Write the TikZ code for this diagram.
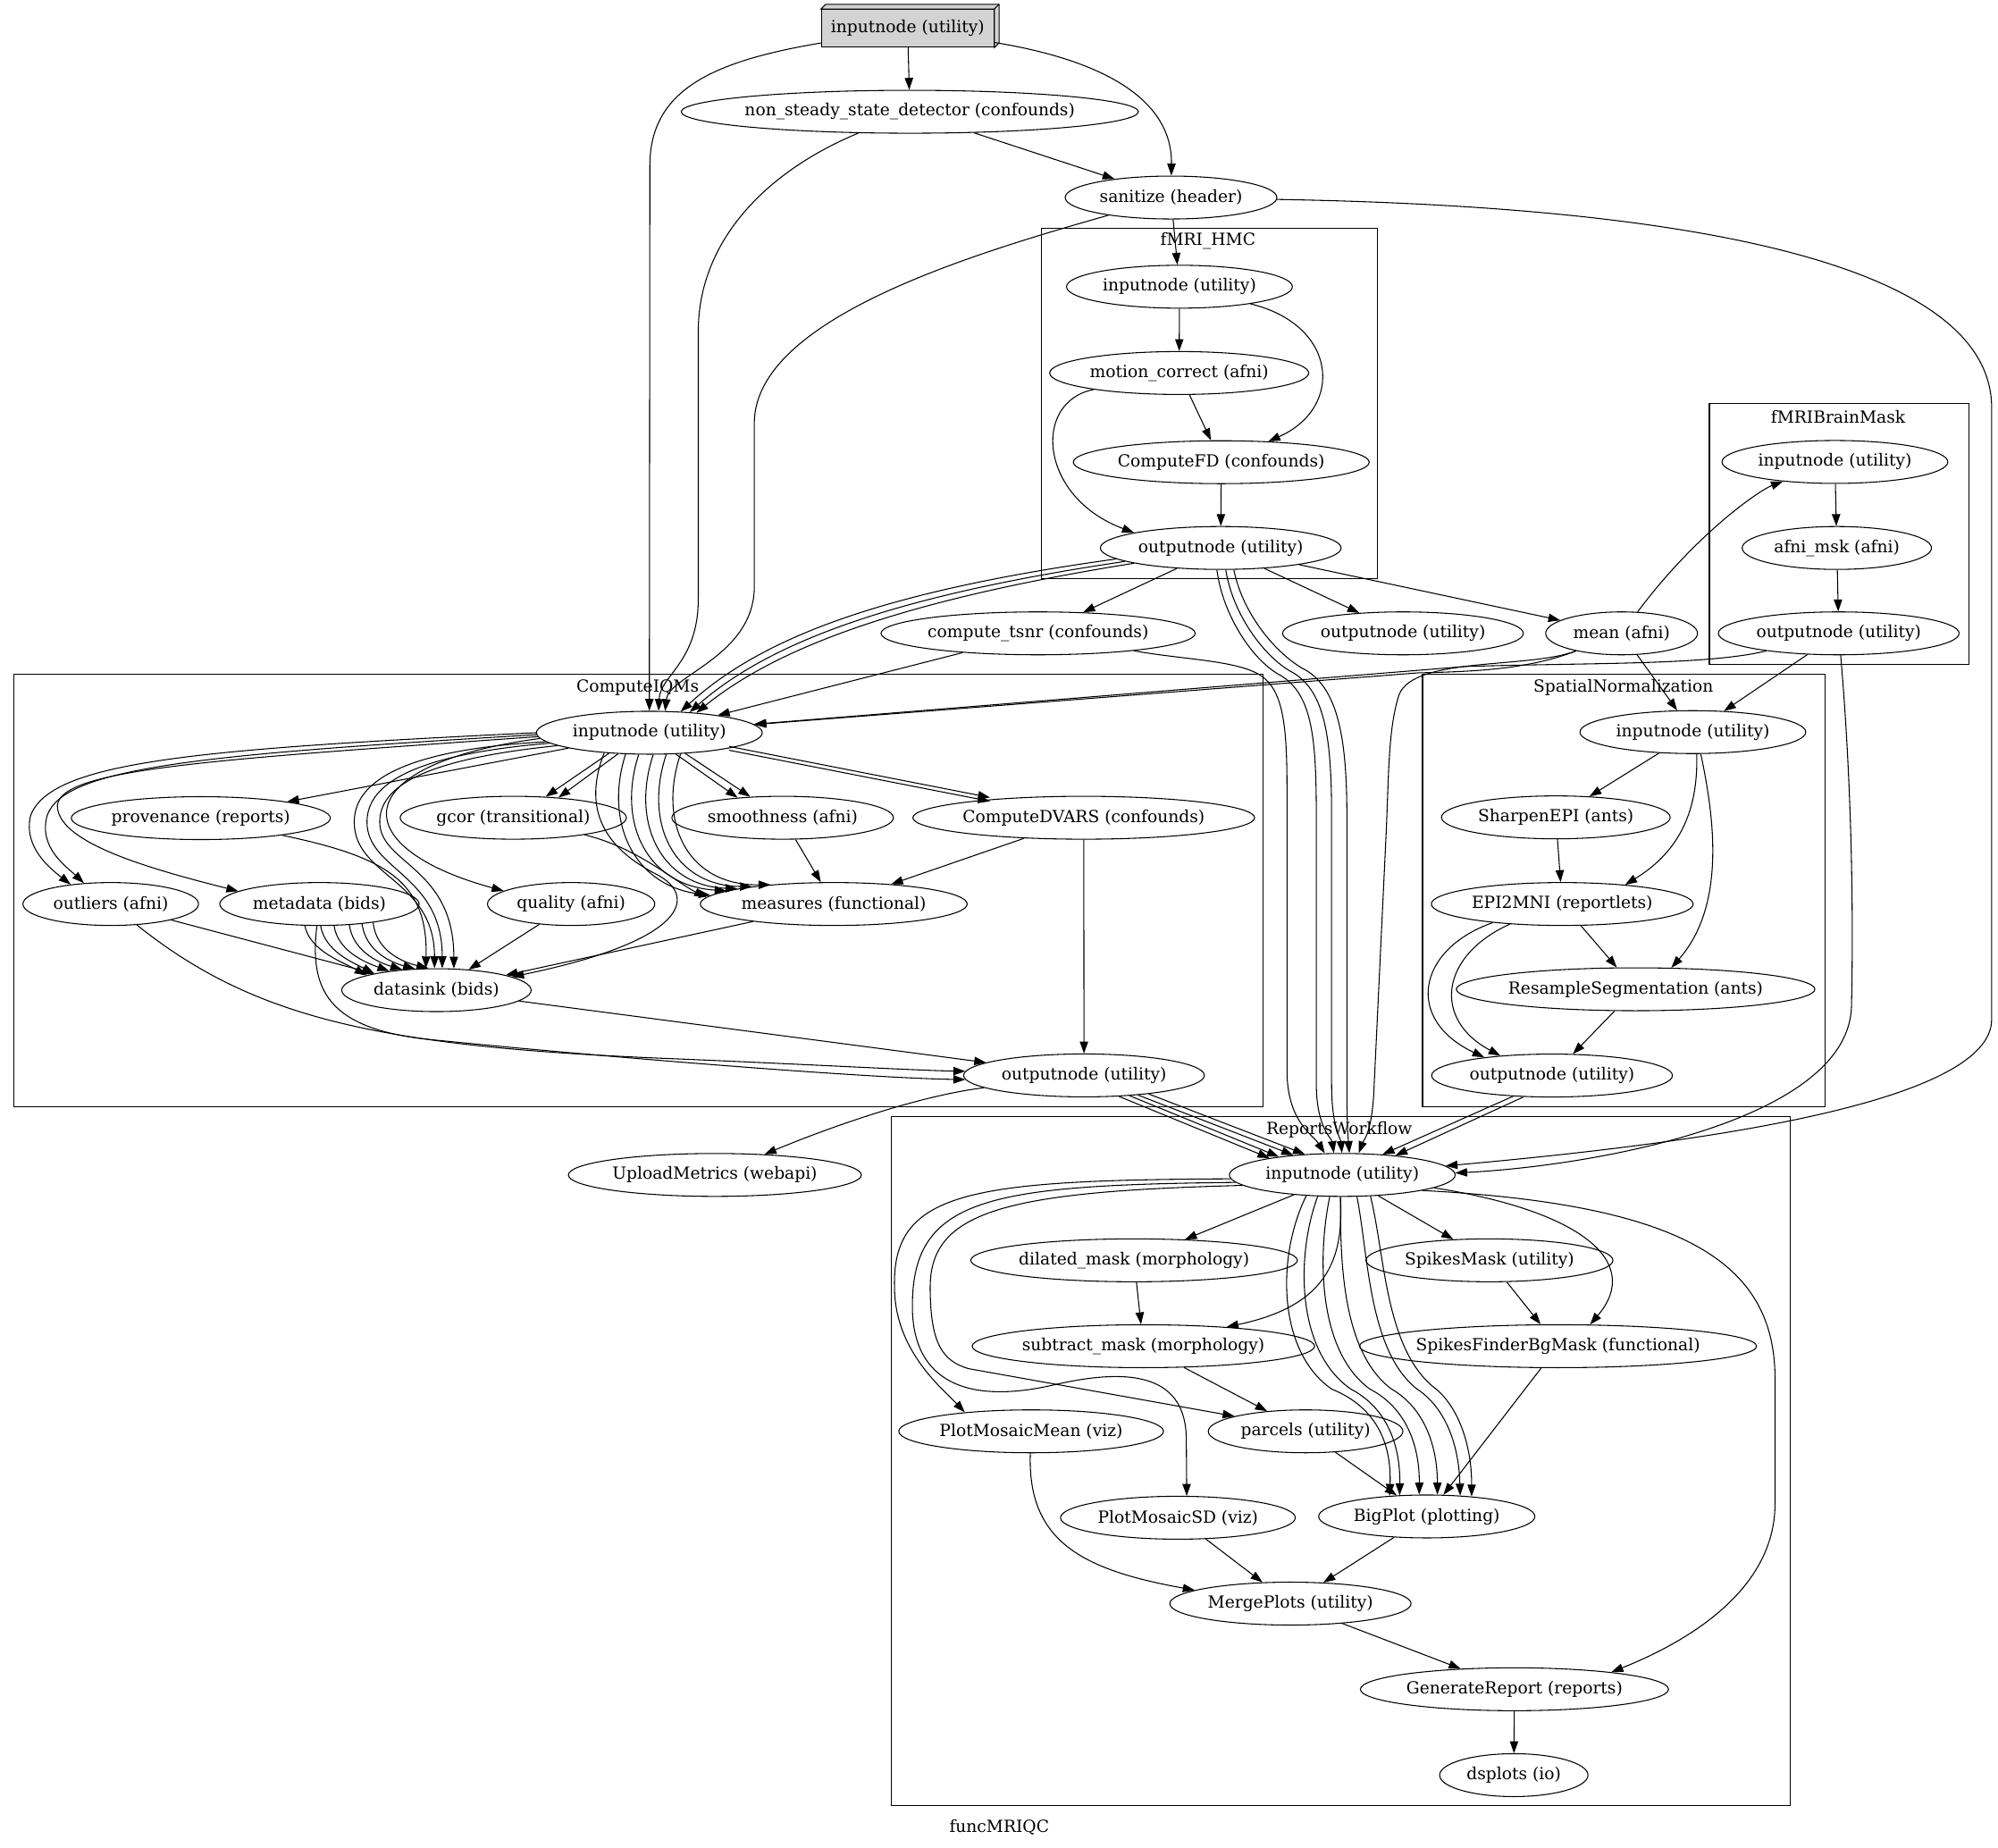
\documentclass[tikz,border=0pt]{standalone}
\usepackage{fontspec}
\setmainfont{DejaVu Serif}
\usetikzlibrary{arrows.meta,calc,shapes.geometric}
\definecolor{boxgray}{HTML}{D3D3D3}
\newlength\jobw
\newcommand\jobtext[1]{\settowidth\jobw{#1}\makebox[\dimexpr0.926\jobw+14.8pt\relax]{#1}}
\begin{document}
\begin{tikzpicture}[x=1.0695pt, y=-1.0695pt, font=\fontsize{14}{17}\selectfont,
  job/.style={draw, ellipse, inner sep=0pt, minimum height=36pt, line width=0.8pt},
  e/.style={-{Triangle[length=10pt,width=7pt]}, line width=0.8pt},
  grp/.style={draw, line width=0.8pt}]
  \useasboundingbox (0,0) rectangle (1568,1450);
  \draw[grp] (817,179.3) rectangle (1081,454);
  \node (hmclbl) at (948,189) {fMRI\_HMC};
  \draw[grp] (1341.5,316.7) rectangle (1545,521.3);
  \node (bmlbl) at (1442.5,327.3) {fMRIBrainMask};
  \draw[grp] (10.9,529.4) rectangle (991.2,868.4);
  \node (iqlbl) at (500.4,539.5) {ComputeIQMs};
  \draw[grp] (1116.4,529) rectangle (1432,868.6);
  \node (snlbl) at (1274,539.5) {SpatialNormalization};
  \draw[grp] (699.2,875.9) rectangle (1405,1417);
  \node (rplbl) at (1051,886.6) {ReportsWorkflow};
  \node (title) at (784.2,1434) {funcMRIQC};

  \node[draw, fill=boxgray, inner xsep=8pt, minimum height=31.5pt, line width=0.8pt] (src) at (712.3,22.2) {inputnode (utility)};
  \filldraw[fill=boxgray, line width=0.8pt] (src.north west) -- ++(4pt,4pt) -- ($(src.north east)+(4pt,4pt)$) -- ($(src.south east)+(4pt,4pt)$) -- (src.south east) -- (src.north east) -- cycle;
  \draw[line width=0.8pt] (src.north east) -- ++(4pt,4pt);

  \node[job] (nssd) at (714,87.7) {\jobtext{non\_steady\_state\_detector (confounds)}};
  \node[job] (sanit) at (919,155) {\jobtext{sanitize (header)}};
  \node[job] (hmcin) at (925.6,225) {\jobtext{inputnode (utility)}};
  \node[job] (mcorr) at (925.4,292.7) {\jobtext{motion\_correct (afni)}};
  \node[job] (cfd) at (958.4,362.7) {\jobtext{ComputeFD (confounds)}};
  \node[job] (hmcout) at (958,430) {\jobtext{outputnode (utility)}};
  \node[job] (bmin) at (1440,362.5) {\jobtext{inputnode (utility)}};
  \node[job] (amsk) at (1441.5,430) {\jobtext{afni\_msk (afni)}};
  \node[job] (bmout) at (1443,497) {\jobtext{outputnode (utility)}};
  \node[job] (tsnr) at (814.7,497) {\jobtext{compute\_tsnr (confounds)}};
  \node[job] (fout) at (1101,497) {\jobtext{outputnode (utility)}};
  \node[job] (mean) at (1272.6,497) {\jobtext{mean (afni)}};
  \node[job] (iqin) at (509.6,575) {\jobtext{inputnode (utility)}};
  \node[job] (prov) at (157.6,642) {\jobtext{provenance (reports)}};
  \node[job] (gcor) at (402.8,641.7) {\jobtext{gcor (transitional)}};
  \node[job] (smooth) at (614.2,641.7) {\jobtext{smoothness (afni)}};
  \node[job] (dvars) at (850.5,641.7) {\jobtext{ComputeDVARS (confounds)}};
  \node[job] (outl) at (86.9,709.4) {\jobtext{outliers (afni)}};
  \node[job] (meta) at (250.7,709.4) {\jobtext{metadata (bids)}};
  \node[job] (qual) at (448.2,709.4) {\jobtext{quality (afni)}};
  \node[job] (meas) at (654.3,709.4) {\jobtext{measures (functional)}};
  \node[job] (dsink) at (342.5,777) {\jobtext{datasink (bids)}};
  \node[job] (iqout) at (850.7,843.9) {\jobtext{outputnode (utility)}};
  \node[job] (snin) at (1328.5,574.5) {\jobtext{inputnode (utility)}};
  \node[job] (sharp) at (1221,641.4) {\jobtext{SharpenEPI (ants)}};
  \node[job] (epi) at (1226,709.4) {\jobtext{EPI2MNI (reportlets)}};
  \node[job] (rseg) at (1283.6,776.3) {\jobtext{ResampleSegmentation (ants)}};
  \node[job] (snout) at (1218,844) {\jobtext{outputnode (utility)}};
  \node[job] (upload) at (561,922) {\jobtext{UploadMetrics (webapi)}};
  \node[job] (rpin) at (1053.4,922) {\jobtext{inputnode (utility)}};
  \node[job] (dil) at (890,989) {\jobtext{dilated\_mask (morphology)}};
  \node[job] (spkm) at (1168.9,989) {\jobtext{SpikesMask (utility)}};
  \node[job] (sub) at (897.3,1056.4) {\jobtext{subtract\_mask (morphology)}};
  \node[job] (spkf) at (1222.7,1056.4) {\jobtext{SpikesFinderBgMask (functional)}};
  \node[job] (pmm) at (809.2,1123.2) {\jobtext{PlotMosaicMean (viz)}};
  \node[job] (parc) at (1024.6,1123.2) {\jobtext{parcels (utility)}};
  \node[job] (pmsd) at (924.4,1191) {\jobtext{PlotMosaicSD (viz)}};
  \node[job] (bigp) at (1119.7,1190) {\jobtext{BigPlot (plotting)}};
  \node[job] (merge) at (1012.7,1258.4) {\jobtext{MergePlots (utility)}};
  \node[job] (genr) at (1188.5,1325.6) {\jobtext{GenerateReport (reports)}};
  \node[job] (dspl) at (1188,1393) {\jobtext{dsplots (io)}};

  \draw[e] (src) -- (nssd);
  \draw[e] (src) .. controls (870,48) and (920,80) .. (sanit);
  \draw[e] (src) .. controls (560,48) and (510,70) .. (510,130) -- (iqin.north);
  \draw[e] (nssd) -- (sanit);
  \draw[e] (nssd) .. controls (600,135) and (548,190) .. (548,260) -- (548,470) .. controls (548,520) and (518,530) .. (iqin.67);
  \draw[e] (sanit) -- (hmcin);
  \draw[e] (sanit) .. controls (760,200) and (595,250) .. (592,330) -- (592,460) .. controls (592,515) and (525,530) .. (iqin.54);
  \draw[e] (sanit) .. controls (1200,160) and (1563,180) .. (1563,320) -- (1563,800) .. controls (1563,870) and (1300,900) .. (rpin.5);

  \draw[e] (hmcin) -- (mcorr);
  \draw[e] (hmcin) .. controls (1050,255) and (1055,320) .. (cfd);
  \draw[e] (mcorr) -- (cfd);
  \draw[e] (mcorr) .. controls (810,315) and (815,390) .. (hmcout.170);
  \draw[e] (cfd) -- (hmcout);
  \draw[e] (hmcout) -- (tsnr);
  \draw[e] (hmcout) -- (fout);
  \draw[e] (hmcout) -- (mean);
  \draw[e] (hmcout.186) .. controls (700,463) and (600,498) .. (iqin.34);
  \draw[e] (hmcout.188) .. controls (704,467) and (605,503) .. (iqin.27);
  \draw[e] (hmcout.190) .. controls (708,471) and (610,508) .. (iqin.23);
  \draw[e] (hmcout.260) .. controls (960,485) and (985,520) .. (1005,530) .. controls (1030,545) and (1033,580) .. (1033,640) -- (1033,850) .. controls (1033,885) and (1045,893) .. (rpin.111);
  \draw[e] (hmcout.283) .. controls (968,485) and (995,518) .. (1015,528) .. controls (1040,543) and (1045,580) .. (1045,640) -- (1045,850) .. controls (1045,885) and (1052,893) .. (rpin.91);
  \draw[e] (hmcout.301) .. controls (976,485) and (1005,516) .. (1025,526) .. controls (1050,541) and (1057,580) .. (1057,640) -- (1057,850) .. controls (1057,885) and (1058,893) .. (rpin.72);

  \draw[e] (tsnr) -- (iqin);
  \draw[e] (tsnr) .. controls (930,518) and (975,518) .. (992,532) .. controls (1008,545) and (1010,575) .. (1010,620) -- (1010,840) .. controls (1010,880) and (1030,890) .. (rpin.129);
  \draw[e] (mean) .. controls (1330,420) and (1380,385) .. (bmin);
  \draw[e] (mean) -- (snin);
  \draw[e] (mean) .. controls (1200,525) and (1160,527) .. (1113,528) -- (iqin);
  \draw[e] (mean) .. controls (1200,525) and (1110,515) .. (1098,545) .. controls (1090,570) and (1090,600) .. (1088,650) -- (1078,860) .. controls (1076,890) and (1070,895) .. (rpin.53);

  \draw[e] (bmin) -- (amsk);
  \draw[e] (amsk) -- (bmout);
  \draw[e] (bmout) -- (snin);
  \draw[e] (bmout) .. controls (1340,522) and (1250,520) .. (1150,523) -- (iqin);
  \draw[e] (bmout) .. controls (1452,600) and (1455,700) .. (1453,790) .. controls (1450,880) and (1250,915) .. (rpin.1);

  \draw[e] (iqin) -- (prov);
  \foreach \s/\t in {207/33, 214/24} \draw[e] (iqin.\s) -- (gcor.\t);
  \foreach \s/\t in {321/156, 330/147} \draw[e] (iqin.\s) -- (smooth.\t);
  \foreach \s in {-1.6,1.6} \draw[e, transform canvas={yshift=\s pt}] (iqin) -- (dvars);
  \draw[e] (iqin.180) .. controls (150,588) and (40,598) .. (24,640) .. controls (18,665) and (40,682) .. (outl.154);
  \draw[e] (iqin.181) .. controls (160,592) and (50,602) .. (37,640) .. controls (30,665) and (52,680) .. (outl.142);
  \draw[e] (iqin.182) .. controls (170,596) and (48,603) .. (45,632) .. controls (45,660) and (110,680) .. (meta.171);
  \draw[e] (iqin.183) .. controls (270,600) and (270,665) .. (qual.169);
  \draw[e] (iqin.185) .. controls (320,588) and (278,612) .. (278,645) .. controls (278,688) and (341,690) .. (dsink.95);
  \draw[e] (iqin.186) .. controls (325,592) and (288,615) .. (288,645) .. controls (288,683) and (347,686) .. (dsink.75);
  \draw[e] (iqin.188) .. controls (330,596) and (298,618) .. (298,645) .. controls (298,678) and (356,680) .. (dsink.51);
  \draw[e] (iqin.204) .. controls (455,640) and (480,668) .. (515,686) .. controls (548,703) and (540,738) .. (dsink.10);
  \foreach \s/\x/\t in {222/492/176, 244/502/173, 280/513/171, 308/523/168, 326/534/163}
    \draw[e] (iqin.\s) .. controls ({\x-18},645) and ({\x+5},695) .. (meas.\t);
  \draw[e] (gcor) .. controls (500,665) and (530,692) .. (meas.177);
  \draw[e] (smooth) -- (meas);
  \draw[e] (dvars) -- (meas);
  \draw[e] (dvars) -- (iqout);
  \draw[e] (prov) .. controls (300,672) and (336,690) .. (dsink.116);
  \draw[e] (outl) -- (dsink);
  \draw[e] (qual) -- (dsink);
  \draw[e] (meas) -- (dsink);
  \foreach \s/\t/\p/\q in {236/168/240/289, 273/165/252/296, 304/158/262/306, 325/149/274/316, 335/135/284/326, 341/110/292/336}
    \draw[e] (meta.\s) .. controls ({\p+3},746) and ({\q-20},755) .. (dsink.\t);
  \draw[e] (outl) .. controls (200,800) and (300,822) .. (533,831) .. controls (650,836) and (720,840) .. (iqout.178);
  \draw[e] (meta) .. controls (243,775) and (255,808) .. (340,816) .. controls (480,830) and (680,846) .. (iqout.182);
  \draw[e] (dsink) -- (iqout);
  \draw[e] (iqout) .. controls (720,860) and (650,885) .. (upload);
  \foreach \s/\t in {329/167, 336/164, 340/158, 344/151} \draw[e] (iqout.\s) -- (rpin.\t);

  \draw[e] (snin) -- (sharp);
  \draw[e] (snin.280) .. controls (1333,640) and (1315,670) .. (epi.17);
  \draw[e] (snin.290) .. controls (1345,640) and (1355,710) .. (rseg.31);
  \draw[e] (sharp) -- (epi);
  \draw[e] (epi) -- (rseg);
  \draw[e] (epi.195) .. controls (1112,745) and (1102,800) .. (snout.165);
  \draw[e] (epi.201) .. controls (1130,750) and (1124,800) .. (snout.159);
  \draw[e] (rseg) -- (snout);
  \foreach \s/\t in {208/27, 217/20} \draw[e] (snout.\s) -- (rpin.\t);

  \draw[e] (rpin) -- (dil);
  \draw[e] (rpin) -- (spkm);
  \draw[e] (rpin.265) .. controls (1055,990) and (1040,1025) .. (sub.13);
  \draw[e] (rpin.-8) .. controls (1240,950) and (1290,990) .. (spkf.34);
  \draw[e] (rpin.-11) .. controls (1320,945) and (1392,990) .. (1393,1080) -- (1393,1180) .. controls (1393,1250) and (1320,1290) .. (genr.10);
  \draw[e] (rpin.182) .. controls (760,926) and (700,935) .. (702,1010) .. controls (702,1060) and (740,1090) .. (pmm.164);
  \draw[e] (rpin.184) .. controls (775,930) and (716,940) .. (716,1025) .. controls (716,1085) and (760,1102) .. (826,1087) .. controls (890,1072) and (931,1080) .. (931,1130) -- (pmsd.68);
  \draw[e] (rpin.186) .. controls (790,935) and (730,950) .. (730,1010) .. controls (730,1055) and (740,1068) .. (760,1074) -- (parc.168);
  \foreach \s/\t/\a/\m/\z in {210/151/1002/1045/1092, 221/142/1017/1060/1099, 240/109/1034/1075/1114, 265/64/1052/1092/1128, 304/32/1074/1112/1145, 323/24/1087/1127/1155}
    \draw[e] (rpin.\s) .. controls (\a,985) and (\a,1060) .. (\m,1090) .. controls ({\z-10},1105) and (\z,1135) .. (bigp.\t);
  \draw[e] (dil) -- (sub);
  \draw[e] (spkm) -- (spkf);
  \draw[e] (sub) -- (parc);
  \draw[e] (spkf) -- (bigp);
  \draw[e] (parc) -- (bigp);
  \draw[e] (pmm.-92) .. controls (806,1210) and (850,1232) .. (merge.172);
  \draw[e] (pmsd) -- (merge);
  \draw[e] (bigp) -- (merge);
  \draw[e] (merge) -- (genr);
  \draw[e] (genr) -- (dspl);
\end{tikzpicture}
\end{document}
